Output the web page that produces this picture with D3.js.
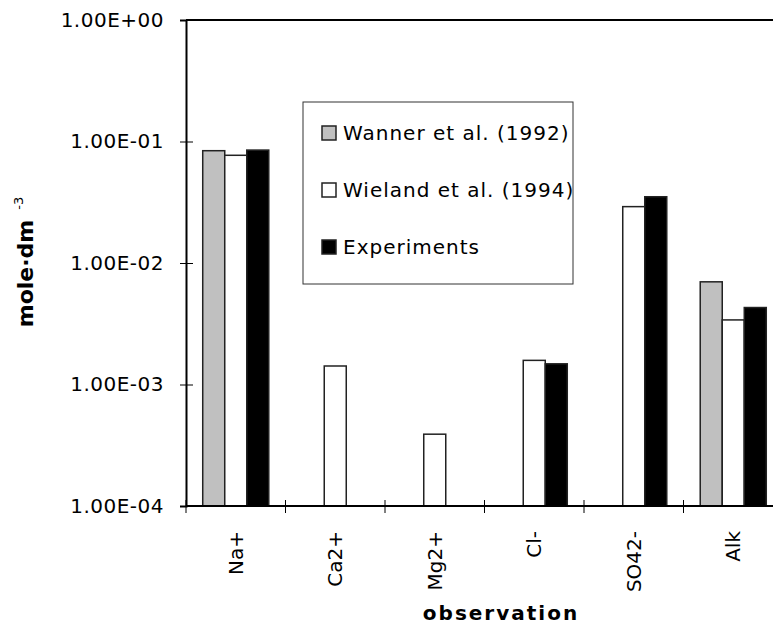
<!DOCTYPE html>
<html>
<head>
<meta charset="utf-8">
<title>mole dm-3 by observation</title>
<script src="https://d3js.org/d3.v7.min.js"></script>
<style>
  body { margin: 0; background: #fff; }
  text { font-family: "DejaVu Sans", sans-serif; fill: #000; }
</style>
</head>
<body>
<svg width="773" height="630"></svg>
<script>
// data
var categories = ["Na+", "Ca2+", "Mg2+", "Cl-", "SO42-", "Alk"];
var seriesNames = ["Wanner et al. (1992)", "Wieland et al. (1994)", "Experiments"];
var wanner   = [0.084, null, null, null, null, 0.0070];
var wieland  = [0.077, 0.00142, 0.00039, 0.00158, 0.0291, 0.0034];
var experiments = [0.085, null, null, 0.00148, 0.0351, 0.0043];
var yTickValues = [1e-4, 1e-3, 1e-2, 1e-1, 1];
var yTickLabels = ["1.00E-04", "1.00E-03", "1.00E-02", "1.00E-01", "1.00E+00"];
var seriesColors = ["#c0c0c0", "#ffffff", "#000000"];

var svg = d3.select("svg");

var x0 = d3.scaleBand().domain(categories).range([186, 783]);
var x1 = d3.scaleBand().domain(seriesNames).range([0, x0.bandwidth()]).paddingOuter(0.76);
var y = d3.scaleLog().domain([1e-4, 1]).range([506, 20]);

var values = [wanner, wieland, experiments];

// bars
categories.forEach(function(c, i) {
  var g = svg.append("g").attr("transform", "translate(" + x0(c) + ",0)");
  seriesNames.forEach(function(s, j) {
    var v = values[j][i];
    if (v == null) return;
    g.append("rect")
      .attr("x", x1(s))
      .attr("y", y(v))
      .attr("width", x1.bandwidth())
      .attr("height", y(1e-4) - y(v))
      .attr("fill", seriesColors[j])
      .attr("stroke", "#222")
      .attr("stroke-width", 1.5);
  });
});

// frame: top line
svg.append("line").attr("x1", x0.range()[0]).attr("x2", x0.range()[1])
  .attr("y1", y(1)).attr("y2", y(1)).attr("stroke", "#000").attr("stroke-width", 2);

// y axis
var yAxis = svg.append("g")
  .attr("transform", "translate(186,0)")
  .call(d3.axisLeft(y).tickValues(yTickValues).tickSize(6).tickPadding(16)
    .tickFormat(function(d, i) { return yTickLabels[i]; }));
yAxis.select(".domain").attr("stroke-width", 2);
yAxis.selectAll(".tick line").attr("x2", 7).attr("x1", -6);
yAxis.selectAll(".tick text")
  .style("font-family", "DejaVu Sans")
  .attr("font-size", 20)
  .attr("letter-spacing", 0.5);

// x axis
var xAxis = svg.append("g").attr("transform", "translate(0,506)");
xAxis.append("line").attr("x1", x0.range()[0]).attr("x2", x0.range()[1])
  .attr("stroke", "#000").attr("stroke-width", 2);
xAxis.selectAll("line.tk")
  .data(categories)
  .enter().append("line").attr("class", "tk")
    .attr("x1", function(d) { return x0(d); })
    .attr("x2", function(d) { return x0(d); })
    .attr("y1", -6).attr("y2", 7)
    .attr("stroke", "#000").attr("stroke-width", 1);
xAxis.selectAll("text.cat")
  .data(categories)
  .enter().append("text").attr("class", "cat")
    .attr("transform", function(d) {
      return "translate(" + (x0(d) + x0.bandwidth() / 2 + 7) + ",25) rotate(-90)";
    })
    .attr("text-anchor", "end")
    .attr("font-size", 20)
    .text(function(d) { return d; });

// axis titles
svg.append("text")
  .attr("x", 501).attr("y", 620)
  .attr("text-anchor", "middle")
  .attr("font-size", 20)
  .attr("font-weight", "bold")
  .attr("letter-spacing", 2)
  .text("observation");

var yt = svg.append("text")
  .attr("transform", "translate(33,262) rotate(-90)")
  .attr("text-anchor", "middle")
  .attr("font-size", 22)
  .attr("font-weight", "bold");
yt.append("tspan").text("mole\u00b7dm");
yt.append("tspan").attr("font-size", 13).attr("font-weight", "normal")
  .attr("dx", 10).attr("dy", -10).text("-3");

// legend
var legend = svg.append("g");
legend.append("rect")
  .attr("x", 303).attr("y", 102).attr("width", 270).attr("height", 182)
  .attr("fill", "#fff").attr("stroke", "#333").attr("stroke-width", 1);
seriesNames.forEach(function(s, i) {
  var row = legend.append("g").attr("transform", "translate(322," + (133 + i * 57) + ")");
  row.append("rect")
    .attr("x", 0).attr("y", -7).attr("width", 14).attr("height", 14)
    .attr("fill", seriesColors[i]).attr("stroke", "#222").attr("stroke-width", 1.5);
  row.append("text")
    .attr("x", 21).attr("y", 7)
    .attr("font-size", 20)
    .attr("letter-spacing", 1)
    .text(s);
});
</script>
</body>
</html>
